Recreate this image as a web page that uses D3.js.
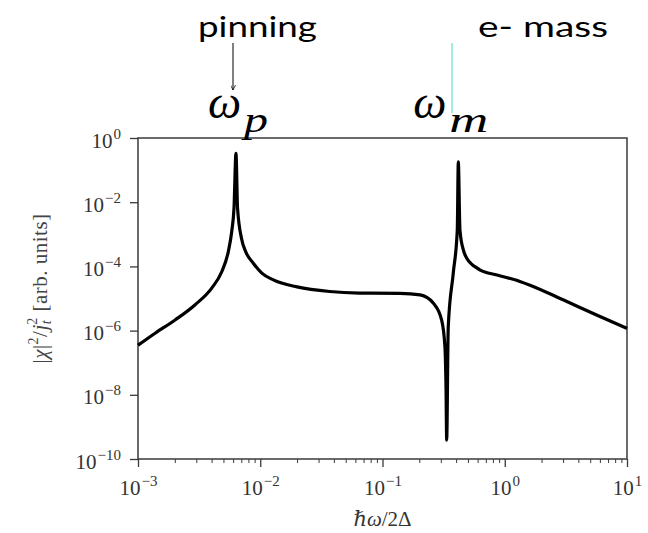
<!DOCTYPE html>
<html>
<head>
<meta charset="utf-8">
<script src="https://cdn.jsdelivr.net/npm/d3@7"></script>
<style>
  html, body { margin: 0; padding: 0; background: #fff; }
  svg { display: block; }
  .tick text { font-family: "Liberation Serif", "DejaVu Serif", serif; fill: #333; }
</style>
</head>
<body>
<svg id="chart" width="648" height="533"></svg>
<script>
// Response spectrum |chi|^2 / j_t^2 versus reduced frequency hbar*omega / 2Delta
const omega = [
  0.001, 0.00138, 0.00201, 0.00292, 0.00401, 0.00484, 0.00548, 0.00584, 0.0061,
  0.00633,
  0.00652, 0.00705, 0.00763, 0.00877, 0.0103, 0.0128, 0.02, 0.037, 0.065,
  0.139, 0.203, 0.261, 0.305, 0.324, 0.331, 0.335,
  0.345, 0.379, 0.409, 0.417,
  0.43, 0.459, 0.489, 0.536, 0.582, 0.63, 0.865, 1.33, 1.61, 3.0, 5.7, 10
];
const chi2 = [
  3.5e-7, 8.3e-7, 2.14e-6, 6.3e-6, 2.1e-5, 6.8e-5, 2.9e-4, 1.2e-3, 6.5e-3,
  0.33,
  6.6e-3, 7.0e-4, 2.8e-4, 1.26e-4, 6.2e-5, 3.8e-5, 2.3e-5, 1.65e-5, 1.48e-5,
  1.45e-5, 1.29e-5, 7.1e-6, 2.1e-6, 3.2e-7, 1.4e-8, 3.9e-10,
  1.3e-6, 6.1e-5, 1.36e-3, 0.18,
  1.36e-3, 3.2e-4, 1.8e-4, 1.18e-4, 9.3e-5, 7.7e-5, 5.4e-5, 3.4e-5, 2.6e-5, 9.1e-6, 3.0e-6, 1.17e-6
];
const xMajorTicks = [1e-3, 1e-2, 1e-1, 1e0, 1e1];
const xTickExponents = ["\u22123", "\u22122", "\u22121", "0", "1"];
const yMajorTicks = [1e0, 1e-2, 1e-4, 1e-6, 1e-8, 1e-10];
const yTickExponents = ["0", "\u22122", "\u22124", "\u22126", "\u22128", "\u221210"];
const resonanceNames = ["pinning", "e- mass"];
const resonanceSubs = ["p", "m"];
const resonanceFreqs = [0.00633, 0.417];

const svg = d3.select("#chart");
const margin = { left: 138, right: 21, top: 138, bottom: 74 };
const W = 648, H = 533;

const x = d3.scaleLog().domain([1e-3, 1e1]).range([margin.left, W - margin.right]);
const y = d3.scaleLog().domain([1e-10, 1e0]).range([H - margin.bottom, margin.top]);

// minor ticks on the x axis: 2..9 times each decade
const xMinor = [];
for (let e = -3; e < 1; e++) for (let k = 2; k <= 9; k++) xMinor.push(k * Math.pow(10, e));

const frameColor = "#3a3a3a";

// minor x ticks
svg.append("g")
  .attr("transform", `translate(0,${y.range()[0]})`)
  .call(d3.axisBottom(x).tickValues(xMinor).tickFormat("").tickSize(4).tickSizeOuter(0))
  .call(g => g.select(".domain").remove())
  .call(g => g.selectAll("line").attr("stroke", frameColor).attr("stroke-width", 1));

// major x ticks with power-of-ten labels
const xAxis = svg.append("g")
  .attr("transform", `translate(0,${y.range()[0]})`)
  .call(d3.axisBottom(x).tickValues(xMajorTicks).tickFormat("").tickSize(8).tickSizeOuter(0))
  .call(g => g.select(".domain").remove())
  .call(g => g.selectAll("line").attr("stroke", frameColor).attr("stroke-width", 1.3));
xAxis.selectAll(".tick text").each(function(d, i) {
  const t = d3.select(this).attr("dy", null).attr("y", 36).attr("font-size", 21);
  t.append("tspan").text("10");
  t.append("tspan").attr("font-size", 15).attr("dy", -9).attr("dx", 1).text(xTickExponents[i]);
});

// major y ticks
const yAxis = svg.append("g")
  .attr("transform", `translate(${x.range()[0]},0)`)
  .call(d3.axisLeft(y).tickValues(yMajorTicks).tickFormat("").tickSize(8).tickSizeOuter(0))
  .call(g => g.select(".domain").remove())
  .call(g => g.selectAll("line").attr("stroke", frameColor).attr("stroke-width", 1.3));
yAxis.selectAll(".tick text").each(function(d, i) {
  const t = d3.select(this).attr("dy", null).attr("y", 9).attr("x", -17).attr("font-size", 21);
  t.append("tspan").text("10");
  t.append("tspan").attr("font-size", 15).attr("dy", -9).attr("dx", 1).text(yTickExponents[i]);
});

// plot frame
svg.append("rect")
  .attr("x", x.range()[0]).attr("y", y.range()[1])
  .attr("width", x.range()[1] - x.range()[0])
  .attr("height", y.range()[0] - y.range()[1])
  .attr("fill", "none").attr("stroke", frameColor).attr("stroke-width", 1.5);

// spectrum
const pts = omega.map((w, i) => [w, chi2[i]]);
svg.append("path")
  .datum(pts)
  .attr("fill", "none")
  .attr("stroke", "#000")
  .attr("stroke-width", 3.2)
  .attr("stroke-linejoin", "round")
  .attr("d", d3.line().x(d => x(d[0])).y(d => y(d[1])).curve(d3.curveMonotoneX));

// axis titles
svg.append("text")
  .attr("x", (x.range()[0] + x.range()[1]) / 2)
  .attr("y", 526)
  .attr("text-anchor", "middle")
  .attr("font-family", "Liberation Serif, DejaVu Serif, serif")
  .attr("font-size", 21)
  .attr("fill", "#333")
  .call(t => {
    t.append("tspan").attr("font-style", "italic").text("\u210f\u03c9");
    t.append("tspan").text("/2\u0394");
  });

const yl = svg.append("text")
  .attr("transform", `translate(47,${(y.range()[0] + y.range()[1]) / 2 - 10}) rotate(-90)`)
  .attr("text-anchor", "middle")
  .attr("font-family", "Liberation Serif, DejaVu Serif, serif")
  .attr("font-size", 21)
  .attr("letter-spacing", 0.5)
  .attr("fill", "#444");
yl.append("tspan").text("|");
yl.append("tspan").attr("font-style", "italic").text("\u03c7");
yl.append("tspan").text("|");
yl.append("tspan").attr("font-size", 14).attr("dy", -9).text("2");
yl.append("tspan").attr("dy", 9).text("/");
yl.append("tspan").attr("font-style", "italic").text("j");
yl.append("tspan").attr("font-style", "italic").attr("font-size", 14).attr("dy", 4).text("t");
yl.append("tspan").attr("font-size", 14).attr("dx", -5).attr("dy", -14).text("2");
yl.append("tspan").attr("dy", 10).text(" [arb.  units]");

// resonance symbols above the frame
const ann = svg.append("g");
const symOffset = [-28, -45];
const subWidth = [24, 39];
resonanceFreqs.forEach((f, i) => {
  const x0 = x(f) + symOffset[i];
  ann.append("text")
    .attr("x", x0).attr("y", 118)
    .attr("font-family", "Liberation Serif, DejaVu Serif, serif")
    .attr("font-style", "italic")
    .attr("font-size", 47)
    .attr("fill", "#000")
    .text("\u03c9");
  ann.append("text")
    .attr("x", x0 + 36).attr("y", 132)
    .attr("font-family", "Liberation Serif, DejaVu Serif, serif")
    .attr("font-style", "italic")
    .attr("font-size", 36)
    .attr("textLength", subWidth[i])
    .attr("lengthAdjust", "spacingAndGlyphs")
    .attr("fill", "#000")
    .text(resonanceSubs[i]);
});

svg.append("defs").append("marker")
  .attr("id", "arrow")
  .attr("viewBox", "0 0 10 10").attr("refX", 10).attr("refY", 5)
  .attr("markerWidth", 5).attr("markerHeight", 5).attr("orient", "auto")
  .append("path").attr("d", "M0,0L10,5L0,10").attr("fill", "none").attr("stroke", "#000").attr("stroke-width", 1.5);

// resonance names
const nameX = [198, 478];
const nameW = [119, 130];
resonanceNames.forEach((n, i) => {
  ann.append("text")
    .attr("x", nameX[i]).attr("y", 37)
    .attr("font-family", "Lato, Open Sans, sans-serif")
    .attr("font-size", 28)
    .attr("textLength", nameW[i])
    .attr("lengthAdjust", "spacingAndGlyphs")
    .attr("fill", "#000")
    .text(n);
});

// pinning arrow
ann.append("line")
  .attr("x1", 233).attr("x2", 233)
  .attr("y1", 43).attr("y2", 90)
  .attr("stroke", "#000").attr("stroke-width", 1)
  .attr("marker-end", "url(#arrow)");

// electron mass marker line
ann.append("line")
  .attr("x1", 452).attr("x2", 452)
  .attr("y1", 43).attr("y2", 113)
  .attr("stroke", "#7fe9d6").attr("stroke-width", 1.5);
</script>
</body>
</html>
